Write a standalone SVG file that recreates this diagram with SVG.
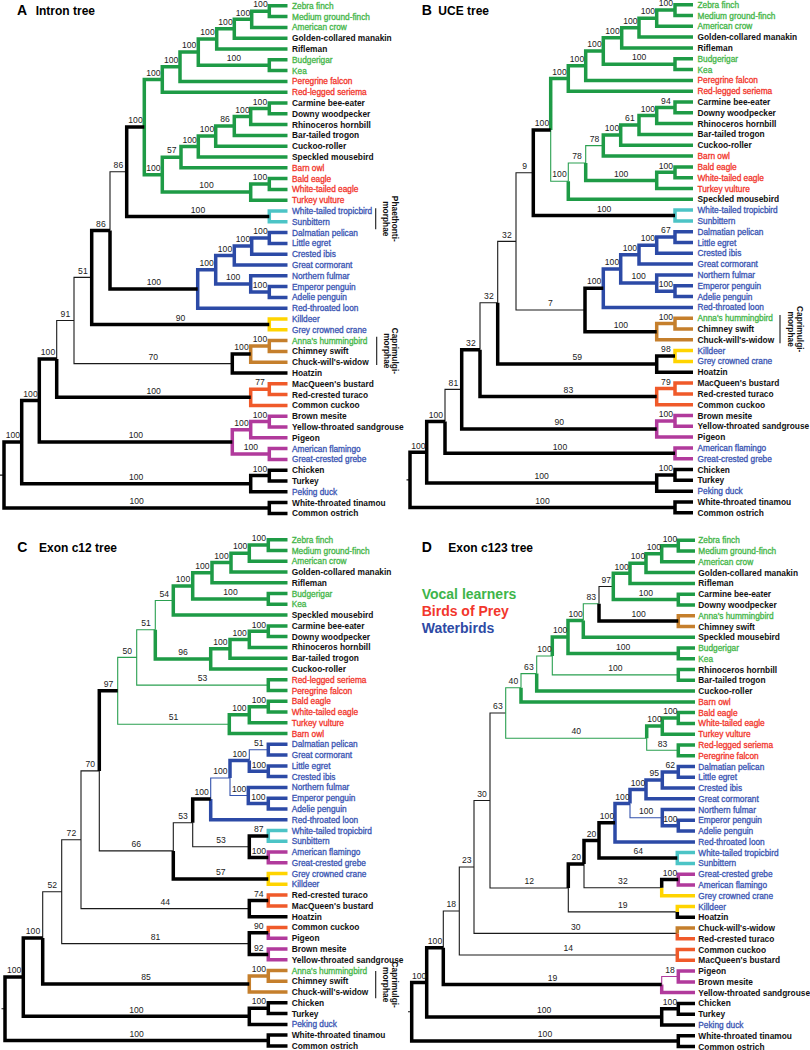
<svg xmlns="http://www.w3.org/2000/svg" width="810" height="1050" viewBox="0 0 810 1050">
<style>
path{fill:none;stroke-linejoin:miter;stroke-linecap:butt}
.k{stroke:#000;stroke-width:3.5}
.t{stroke:#1a1a1a;stroke-width:1.1}
.g{stroke:#1e9b46;stroke-width:3.5}
.gt{stroke:#2aa050;stroke-width:1.1}
.b{stroke:#2c4aa6;stroke-width:3.5}
.bt{stroke:#3352ad;stroke-width:1.1}
.c{stroke:#4cc4c6;stroke-width:3.5}
.y{stroke:#ffd400;stroke-width:3.5}
.o{stroke:#c57f2c;stroke-width:3.5}
.r{stroke:#f05a2a;stroke-width:3.5}
.m{stroke:#b13a9c;stroke-width:3.5}
.mt{stroke:#b13a9c;stroke-width:1.1}
.sp text{font-family:'Liberation Sans',Arial,sans-serif;font-size:8.6px;fill:#222;text-anchor:middle}
.lv text,.br text{font-family:'Liberation Sans',Arial,sans-serif;font-size:8.35px;font-weight:bold;fill:#111}
.br text{text-anchor:middle}
.lv .lg,.lv .lr,.lv .lb{font-weight:normal;font-size:8.3px;stroke-width:0.3}
.lv .lg{fill:#45b649;stroke:#45b649}.lv .lr{fill:#f2362c;stroke:#f2362c}.lv .lb{fill:#3a55b3;stroke:#3a55b3}
.tl{font-family:'Liberation Sans',Arial,sans-serif;font-size:14px;font-weight:bold;fill:#000}
.tn{font-family:'Liberation Sans',Arial,sans-serif;font-size:12px;font-weight:bold;fill:#000}
.lgd{font-family:'Liberation Sans',Arial,sans-serif;font-size:14px;font-weight:bold}
</style>

<!-- ================= TREE A ================= -->
<g id="treeA">
<text class="tl" x="17" y="15">A</text><text class="tn" x="35.7" y="15">Intron tree</text>
<g id="A-connectors">
<path class="t" d="M0 475.1H4M56.7 358.9V320.5H74M91.7 277.4H74V363.6H232.3M110 230.4V171.8H126.7"/>
<path class="g" d="M162.3 79.5H144.3V174.7H162.3M180 66.8H162.3V92.2H287.5M198.3 52.1H180V81.4H287.5M216.7 38.9H198.3V65.2H269.3M234.3 28.8H216.7V49H287.5M251.7 19.3H234.3V38.2H287.5M269.3 11.2H251.7V27.4H287.5M287.5 5.8H269.3V16.6H287.5M287.5 59.8H269.3V70.6H287.5M181 157.2H162.3V192.1H250.7M198.3 146.6H181V167.8H287.5M215.7 136.1H198.3V157H287.5M234.3 126H215.7V146.2H287.5M250.7 116.5H234.3V135.4H287.5M269.3 108.4H250.7V124.6H287.5M287.5 103H269.3V113.8H287.5M269.3 184H250.7V200.2H287.5M287.5 178.6H269.3V189.4H287.5"/>
<path class="c" d="M287.5 211H269.3V221.8H287.5"/>
<path class="b" d="M215.7 269.8H197.7V308.2H287.5M234.3 255.6H215.7V283.9H250.7M251.7 246.1H234.3V265H287.5M269.3 238H251.7V254.2H287.5M287.5 232.6H269.3V243.4H287.5M287.5 275.8H250.7V292H269.3M287.5 286.6H269.3V297.4H287.5"/>
<path class="y" d="M287.5 319H269.3V329.8H287.5"/>
<path class="o" d="M269.3 346H250.7V362.2H287.5M287.5 340.6H269.3V351.4H287.5"/>
<path class="r" d="M269.3 389.2H250.7V405.4H287.5M287.5 383.8H269.3V394.6H287.5"/>
<path class="m" d="M250.7 429.7H232.3V454H269.3M269.3 421.6H250.7V437.8H287.5M287.5 416.2H269.3V427H287.5M287.5 448.6H269.3V459.4H287.5"/>
<path class="k" d="M21.7 442.1H4V508H269.3M39.3 400.4H21.7V483.7H250.7M56.7 358.9H39.3V441.9H232.3M56.7 358.9V397.3H250.7M110 230.4H91.7V324.4H269.3M110 230.4V289H197.7M144.3 127.1H126.7V216.4H269.3M250.7 354.1H232.3V373H287.5M269.3 475.6H250.7V491.8H287.5M287.5 470.2H269.3V481H287.5M287.5 502.6H269.3V513.4H287.5"/>
<path class="t" d="M375.7 208.3V229.3M376.7 336.7V365"/>
</g>
<g class="sp" id="A-support">
<text x="260.5" y="7.4">100</text><text x="243" y="15.5">100</text><text x="225.5" y="25">100</text><text x="207.5" y="35.1">100</text><text x="233.8" y="61.4">100</text><text x="189.2" y="48.3">100</text><text x="171.2" y="63">100</text><text x="153.3" y="75.7">100</text><text x="135.5" y="123.3">100</text><text x="118.4" y="168">86</text><text x="260" y="104.6">100</text><text x="242.5" y="112.7">100</text><text x="225" y="122.2">86</text><text x="207" y="132.3">100</text><text x="189.7" y="142.8">100</text><text x="171.7" y="153.4">57</text><text x="260" y="180.2">100</text><text x="206.5" y="188.3">100</text><text x="153.3" y="170.9">100</text><text x="198" y="212.6">100</text><text x="100.9" y="226.6">86</text><text x="153.9" y="285.2">100</text><text x="260.5" y="234.2">100</text><text x="243" y="242.3">100</text><text x="225" y="251.8">100</text><text x="260" y="288.2">100</text><text x="233.2" y="280.1">100</text><text x="206.7" y="266">100</text><text x="180.5" y="320.6">90</text><text x="82.9" y="273.6">51</text><text x="65.4" y="316.7">91</text><text x="153.2" y="359.8">70</text><text x="260" y="342.2">100</text><text x="241.5" y="350.3">100</text><text x="48" y="355.1">100</text><text x="153.7" y="393.5">100</text><text x="260" y="385.4">77</text><text x="260" y="417.8">100</text><text x="241.5" y="425.9">100</text><text x="250.8" y="450.2">100</text><text x="135.8" y="438.1">100</text><text x="30.5" y="396.6">100</text><text x="260" y="471.8">100</text><text x="136.2" y="479.9">100</text><text x="12.9" y="438.3">100</text><text x="136.7" y="504.2">100</text>
</g>
<g class="br" id="A-clades">
<text transform="translate(391.5 218.8) rotate(90)">Phaethonti-</text><text transform="translate(383.2 218.8) rotate(90)">morphae</text>
<text transform="translate(392 350.8) rotate(90)">Caprimulgi-</text><text transform="translate(383.5 350.8) rotate(90)">morphae</text>
</g>
<g class="lv" id="A-leaves" transform="translate(292 0)">
<g id="a1"><text class="lg" y="8.8">Zebra finch</text></g>
<g id="a2"><text class="lg" y="19.6">Medium ground-finch</text></g>
<g id="a3"><text class="lg" y="30.4">American crow</text></g>
<g id="a4"><text y="41.2">Golden-collared manakin</text></g>
<g id="a5"><text y="52">Rifleman</text></g>
<g id="a6"><text class="lg" y="62.8">Budgerigar</text></g>
<g id="a7"><text class="lg" y="73.6">Kea</text></g>
<g id="a8"><text class="lr" y="84.4">Peregrine falcon</text></g>
<g id="a9"><text class="lr" y="95.2">Red-legged seriema</text></g>
<g id="a10"><text y="106">Carmine bee-eater</text></g>
<g id="a11"><text y="116.8">Downy woodpecker</text></g>
<g id="a12"><text y="127.6">Rhinoceros hornbill</text></g>
<g id="a13"><text y="138.4">Bar-tailed trogon</text></g>
<g id="a14"><text y="149.2">Cuckoo-roller</text></g>
<g id="a15"><text y="160">Speckled mousebird</text></g>
<g id="a16"><text class="lr" y="170.8">Barn owl</text></g>
<g id="a17"><text class="lr" y="181.6">Bald eagle</text></g>
<g id="a18"><text class="lr" y="192.4">White-tailed eagle</text></g>
<g id="a19"><text class="lr" y="203.2">Turkey vulture</text></g>
<g id="a20"><text class="lb" y="214">White-tailed tropicbird</text></g>
<g id="a21"><text class="lb" y="224.8">Sunbittern</text></g>
<g id="a22"><text class="lb" y="235.6">Dalmatian pelican</text></g>
<g id="a23"><text class="lb" y="246.4">Little egret</text></g>
<g id="a24"><text class="lb" y="257.2">Crested ibis</text></g>
<g id="a25"><text class="lb" y="268">Great cormorant</text></g>
<g id="a26"><text class="lb" y="278.8">Northern fulmar</text></g>
<g id="a27"><text class="lb" y="289.6">Emperor penguin</text></g>
<g id="a28"><text class="lb" y="300.4">Adelie penguin</text></g>
<g id="a29"><text class="lb" y="311.2">Red-throated loon</text></g>
<g id="a30"><text class="lb" y="322">Killdeer</text></g>
<g id="a31"><text class="lb" y="332.8">Grey crowned crane</text></g>
<g id="a32"><text class="lg" y="343.6">Anna's hummingbird</text></g>
<g id="a33"><text y="354.4">Chimney swift</text></g>
<g id="a34"><text y="365.2">Chuck-will's-widow</text></g>
<g id="a35"><text y="376">Hoatzin</text></g>
<g id="a36"><text y="386.8">MacQueen's bustard</text></g>
<g id="a37"><text y="397.6">Red-crested turaco</text></g>
<g id="a38"><text y="408.4">Common cuckoo</text></g>
<g id="a39"><text y="419.2">Brown mesite</text></g>
<g id="a40"><text y="430">Yellow-throated sandgrouse</text></g>
<g id="a41"><text y="440.8">Pigeon</text></g>
<g id="a42"><text class="lb" y="451.6">American flamingo</text></g>
<g id="a43"><text class="lb" y="462.4">Great-crested grebe</text></g>
<g id="a44"><text y="473.2">Chicken</text></g>
<g id="a45"><text y="484">Turkey</text></g>
<g id="a46"><text class="lb" y="494.8">Peking duck</text></g>
<g id="a47"><text y="505.6">White-throated tinamou</text></g>
<g id="a48"><text y="516.4">Common ostrich</text></g>
</g>
</g>

<!-- ================= TREE B ================= -->
<g id="treeB">
<text class="tl" x="421.7" y="15">B</text><text class="tn" x="438.3" y="15">UCE tree</text>
<g id="B-connectors">
<path class="t" d="M406.5 479.9H410M445 421.4V389.4H461.7M480 349.7V302.8H497.7M497.7 302.8V241.4H516M533.3 172.7H516V310H585"/>
<path class="gt" d="M550.7 129.9V181.2H568.3M568.3 181.2V163H585.7M585.7 163V145.6H603.3"/>
<path class="g" d="M550.7 129.9V78.5H568.3M585.7 65.7H568.3V91.2H693M603.3 51H585.7V80.4H693M621.7 37.8H603.3V64.2H675M639 27.7H621.7V47.9H693M656.7 18.2H639V37.1H693M675 10.1H656.7V26.3H693M693 4.7H675V15.5H693M693 58.8H675V69.6H693M568.3 181.2V199.3H693M585.7 163V180.4H656.7M620.7 135.1H603.3V156H693M639 125H620.7V145.2H693M656.7 115.5H639V134.4H693M675 107.4H656.7V123.6H693M693 102H675V112.8H693M675 172.3H656.7V188.5H693M693 166.9H675V177.7H693"/>
<path class="c" d="M693 210.1H675V220.9H693"/>
<path class="b" d="M620.7 268.9H603.3V307.4H693M639 254.7H620.7V283.1H656.7M656.7 245.2H639V264.1H693M675 237.1H656.7V253.3H693M693 231.7H675V242.5H693M693 275H656.7V291.2H675M693 285.8H675V296.6H693"/>
<path class="o" d="M675 323.6H656.7V339.8H693M693 318.2H675V329H693"/>
<path class="y" d="M693 350.6H675V361.4H693"/>
<path class="r" d="M675 388.5H656.7V404.7H693M693 383.1H675V393.9H693"/>
<path class="m" d="M675 420.9H656.7V437.1H693M693 415.5H675V426.3H693M693 447.9H675V458.7H693"/>
<path class="k" d="M426.7 452.3H410V507.4H675M445 421.4H426.7V483.1H656.7M445 421.4V453.3H675M480 349.7H461.7V429H656.7M480 349.7V396.6H656.7M497.7 302.8V364.1H656.7M550.7 129.9H533.3V215.5H675M603.3 288.2H585V331.7H656.7M675 356H656.7V372.2H693M675 474.9H656.7V491.2H693M693 469.5H675V480.3H693M693 502H675V512.8H693"/>
<path class="t" d="M780 315V343.3"/>
</g>
<g class="sp" id="B-support">
<text x="665.9" y="6.3">100</text><text x="647.9" y="14.4">100</text><text x="630.4" y="23.9">100</text><text x="612.5" y="34">100</text><text x="639.2" y="60.4">100</text><text x="594.5" y="47.2">100</text><text x="577" y="61.9">100</text><text x="559.5" y="74.7">100</text><text x="542" y="126.1">100</text><text x="559.5" y="177.4">100</text><text x="577" y="159.2">78</text><text x="594.5" y="141.8">78</text><text x="621.2" y="176.6">100</text><text x="612" y="131.3">100</text><text x="629.9" y="121.2">61</text><text x="647.9" y="111.7">100</text><text x="665.9" y="103.6">94</text><text x="665.9" y="168.5">100</text><text x="604.2" y="211.7">100</text><text x="524.7" y="168.9">9</text><text x="506.9" y="237.6">32</text><text x="550.5" y="306.2">7</text><text x="594.2" y="284.4">100</text><text x="620.9" y="327.9">100</text><text x="612" y="265.1">100</text><text x="629.9" y="250.9">100</text><text x="638.7" y="279.3">100</text><text x="647.9" y="241.4">100</text><text x="665.9" y="233.3">67</text><text x="665.9" y="287.4">100</text><text x="665.9" y="319.8">100</text><text x="665.9" y="352.2">98</text><text x="577.2" y="360.3">59</text><text x="488.9" y="299">32</text><text x="470.9" y="345.9">32</text><text x="568.4" y="392.8">83</text><text x="665.9" y="384.7">79</text><text x="559.2" y="425.2">90</text><text x="665.9" y="417.1">100</text><text x="453.4" y="385.6">81</text><text x="560" y="449.5">100</text><text x="435.9" y="417.6">100</text><text x="665.9" y="471.1">100</text><text x="541.7" y="479.3">100</text><text x="418.4" y="448.5">100</text><text x="542.5" y="503.6">100</text>
</g>
<g class="br" id="B-clades">
<text transform="translate(796.5 329.2) rotate(90)">Caprimulgi-</text><text transform="translate(788 329.2) rotate(90)">morphae</text>
</g>
<g class="lv" id="B-leaves" transform="translate(697.5 0)">
<g id="b1"><text class="lg" y="7.7">Zebra finch</text></g>
<g id="b2"><text class="lg" y="18.5">Medium ground-finch</text></g>
<g id="b3"><text class="lg" y="29.3">American crow</text></g>
<g id="b4"><text y="40.1">Golden-collared manakin</text></g>
<g id="b5"><text y="50.9">Rifleman</text></g>
<g id="b6"><text class="lg" y="61.8">Budgerigar</text></g>
<g id="b7"><text class="lg" y="72.6">Kea</text></g>
<g id="b8"><text class="lr" y="83.4">Peregrine falcon</text></g>
<g id="b9"><text class="lr" y="94.2">Red-legged seriema</text></g>
<g id="b10"><text y="105">Carmine bee-eater</text></g>
<g id="b11"><text y="115.8">Downy woodpecker</text></g>
<g id="b12"><text y="126.6">Rhinoceros hornbill</text></g>
<g id="b13"><text y="137.4">Bar-tailed trogon</text></g>
<g id="b14"><text y="148.2">Cuckoo-roller</text></g>
<g id="b15"><text class="lr" y="159">Barn owl</text></g>
<g id="b16"><text class="lr" y="169.9">Bald eagle</text></g>
<g id="b17"><text class="lr" y="180.7">White-tailed eagle</text></g>
<g id="b18"><text class="lr" y="191.5">Turkey vulture</text></g>
<g id="b19"><text y="202.3">Speckled mousebird</text></g>
<g id="b20"><text class="lb" y="213.1">White-tailed tropicbird</text></g>
<g id="b21"><text class="lb" y="223.9">Sunbittern</text></g>
<g id="b22"><text class="lb" y="234.7">Dalmatian pelican</text></g>
<g id="b23"><text class="lb" y="245.5">Little egret</text></g>
<g id="b24"><text class="lb" y="256.3">Crested ibis</text></g>
<g id="b25"><text class="lb" y="267.1">Great cormorant</text></g>
<g id="b26"><text class="lb" y="278">Northern fulmar</text></g>
<g id="b27"><text class="lb" y="288.8">Emperor penguin</text></g>
<g id="b28"><text class="lb" y="299.6">Adelie penguin</text></g>
<g id="b29"><text class="lb" y="310.4">Red-throated loon</text></g>
<g id="b30"><text class="lg" y="321.2">Anna's hummingbird</text></g>
<g id="b31"><text y="332">Chimney swift</text></g>
<g id="b32"><text y="342.8">Chuck-will's-widow</text></g>
<g id="b33"><text class="lb" y="353.6">Killdeer</text></g>
<g id="b34"><text class="lb" y="364.4">Grey crowned crane</text></g>
<g id="b35"><text y="375.2">Hoatzin</text></g>
<g id="b36"><text y="386.1">MacQueen's bustard</text></g>
<g id="b37"><text y="396.9">Red-crested turaco</text></g>
<g id="b38"><text y="407.7">Common cuckoo</text></g>
<g id="b39"><text y="418.5">Brown mesite</text></g>
<g id="b40"><text y="429.3">Yellow-throated sandgrouse</text></g>
<g id="b41"><text y="440.1">Pigeon</text></g>
<g id="b42"><text class="lb" y="450.9">American flamingo</text></g>
<g id="b43"><text class="lb" y="461.7">Great-crested grebe</text></g>
<g id="b44"><text y="472.5">Chicken</text></g>
<g id="b45"><text y="483.3">Turkey</text></g>
<g id="b46"><text class="lb" y="494.2">Peking duck</text></g>
<g id="b47"><text y="505">White-throated tinamou</text></g>
<g id="b48"><text y="515.8">Common ostrich</text></g>
</g>
</g>

<!-- ================= TREE C ================= -->
<g id="treeC">
<text class="tl" x="17.3" y="551.7">C</text><text class="tn" x="39" y="551.7">Exon c12 tree</text>
<g id="C-connectors">
<path class="t" d="M1.5 1008.8H5M42.7 937.9V891.7H61.7M81 839.8H61.7V943.6H249.3M99.3 770.9H81V908.6H249.3M99.3 770.9V850.9H173.3M173.3 850.9V822.8H192.7M192.7 822.8V846.7H249.3"/>
<path class="gt" d="M136.7 657.4H117.7V724.2H229.3M155.3 629.7H136.7V685.1H268.3M155.3 629.7V600.5H173.3"/>
<path class="g" d="M155.3 629.7V658.9H210.7M192.7 585.9H173.3V615.1H287.5M212 572.7H192.7V599H268.3M231 562.6H212V582.8H287.5M249.3 553.2H231V572H287.5M268.3 545.1H249.3V561.2H287.5M287.5 539.7H268.3V550.5H287.5M287.5 593.6H268.3V604.3H287.5M230 648.8H210.7V668.9H287.5M249.3 639.4H230V658.2H287.5M268.3 631.3H249.3V647.4H287.5M287.5 625.9H268.3V636.6H287.5M287.5 679.7H268.3V690.5H287.5M249.3 714.8H229.3V733.6H287.5M268.3 706.7H249.3V722.8H287.5M287.5 701.3H268.3V712H287.5"/>
<path class="bt" d="M210.7 798.9V778H230M230 778V795.5H248.3M249.3 760.5V749.7H268.3"/>
<path class="b" d="M210.7 798.9V819.7H287.5M230 778V760.5H249.3M249.3 760.5V771.3H268.3M287.5 744.3H268.3V755.1H287.5M287.5 765.9H268.3V776.6H287.5M287.5 787.4H248.3V803.6H268.3M287.5 798.2H268.3V809H287.5"/>
<path class="c" d="M287.5 830.5H268.3V841.3H287.5"/>
<path class="m" d="M287.5 852H268.3V862.8H287.5M268.3 932.8V938.2H287.5M287.5 949H268.3V959.7H287.5"/>
<path class="y" d="M287.5 873.6H268.3V884.3H287.5"/>
<path class="r" d="M287.5 895.1H268.3V905.9H287.5M268.3 932.8V927.4H287.5"/>
<path class="o" d="M268.3 975.9H249.3V992H287.5M287.5 970.5H268.3V981.3H287.5"/>
<path class="k" d="M23.3 977.1H5V1040.5H268.3M42.7 937.9H23.3V1016.3H249.3M42.7 937.9V984H249.3M99.3 770.9V690.8H117.7M173.3 850.9V879H268.3M192.7 822.8V798.9H210.7M268.3 835.9H249.3V857.4H268.3M268.3 900.5H249.3V916.7H287.5M268.3 932.8H249.3V954.4H268.3M268.3 1008.2H249.3V1024.4H287.5M287.5 1002.8H268.3V1013.6H287.5M287.5 1035.1H268.3V1045.9H287.5"/>
<path class="t" d="M375.7 971V998.3"/>
</g>
<g class="sp" id="C-support">
<text x="258.8" y="541.3">100</text><text x="240.2" y="549.4">100</text><text x="221.5" y="558.8">100</text><text x="202.4" y="568.9">100</text><text x="230.5" y="595.2">100</text><text x="183" y="582.1">100</text><text x="164.3" y="596.7">54</text><text x="146" y="625.9">51</text><text x="183" y="655.1">96</text><text x="220.4" y="645">100</text><text x="239.7" y="635.6">100</text><text x="258.8" y="627.5">100</text><text x="202.5" y="681.3">53</text><text x="127.2" y="653.6">50</text><text x="239.3" y="711">100</text><text x="258.8" y="702.9">100</text><text x="173.5" y="720.4">51</text><text x="108.5" y="687">97</text><text x="90.2" y="767.1">70</text><text x="136.3" y="847.1">66</text><text x="183" y="819">53</text><text x="220.8" y="875.2">57</text><text x="201.7" y="795.1">100</text><text x="221" y="842.9">53</text><text x="220.4" y="774.2">100</text><text x="239.7" y="756.7">100</text><text x="239.2" y="791.7">100</text><text x="258.8" y="745.9">51</text><text x="258.8" y="767.5">100</text><text x="258.3" y="799.8">100</text><text x="258.8" y="832.1">87</text><text x="258.8" y="853.6">100</text><text x="71.4" y="836">72</text><text x="165.2" y="904.8">44</text><text x="258.8" y="896.7">74</text><text x="155.5" y="939.8">81</text><text x="258.8" y="929">90</text><text x="258.8" y="950.6">92</text><text x="52.2" y="887.9">52</text><text x="146" y="980.2">85</text><text x="258.8" y="972.1">100</text><text x="33" y="934.1">100</text><text x="136.3" y="1012.5">100</text><text x="258.8" y="1004.4">100</text><text x="14.2" y="973.3">100</text><text x="136.7" y="1036.7">100</text>
</g>
<g class="br" id="C-clades">
<text transform="translate(391.5 984.7) rotate(90)">Caprimulgi-</text><text transform="translate(383 984.7) rotate(90)">morphae</text>
</g>
<g class="lv" id="C-leaves" transform="translate(291.7 0)">
<g id="c1"><text class="lg" y="542.7">Zebra finch</text></g>
<g id="c2"><text class="lg" y="553.5">Medium ground-finch</text></g>
<g id="c3"><text class="lg" y="564.2">American crow</text></g>
<g id="c4"><text y="575">Golden-collared manakin</text></g>
<g id="c5"><text y="585.8">Rifleman</text></g>
<g id="c6"><text class="lg" y="596.6">Budgerigar</text></g>
<g id="c7"><text class="lg" y="607.3">Kea</text></g>
<g id="c8"><text y="618.1">Speckled mousebird</text></g>
<g id="c9"><text y="628.9">Carmine bee-eater</text></g>
<g id="c10"><text y="639.6">Downy woodpecker</text></g>
<g id="c11"><text y="650.4">Rhinoceros hornbill</text></g>
<g id="c12"><text y="661.2">Bar-tailed trogon</text></g>
<g id="c13"><text y="671.9">Cuckoo-roller</text></g>
<g id="c14"><text class="lr" y="682.7">Red-legged seriema</text></g>
<g id="c15"><text class="lr" y="693.5">Peregrine falcon</text></g>
<g id="c16"><text class="lr" y="704.3">Bald eagle</text></g>
<g id="c17"><text class="lr" y="715">White-tailed eagle</text></g>
<g id="c18"><text class="lr" y="725.8">Turkey vulture</text></g>
<g id="c19"><text class="lr" y="736.6">Barn owl</text></g>
<g id="c20"><text class="lb" y="747.3">Dalmatian pelican</text></g>
<g id="c21"><text class="lb" y="758.1">Great cormorant</text></g>
<g id="c22"><text class="lb" y="768.9">Little egret</text></g>
<g id="c23"><text class="lb" y="779.6">Crested ibis</text></g>
<g id="c24"><text class="lb" y="790.4">Northern fulmar</text></g>
<g id="c25"><text class="lb" y="801.2">Emperor penguin</text></g>
<g id="c26"><text class="lb" y="812">Adelie penguin</text></g>
<g id="c27"><text class="lb" y="822.7">Red-throated loon</text></g>
<g id="c28"><text class="lb" y="833.5">White-tailed tropicbird</text></g>
<g id="c29"><text class="lb" y="844.3">Sunbittern</text></g>
<g id="c30"><text class="lb" y="855">American flamingo</text></g>
<g id="c31"><text class="lb" y="865.8">Great-crested grebe</text></g>
<g id="c32"><text class="lb" y="876.6">Grey crowned crane</text></g>
<g id="c33"><text class="lb" y="887.3">Killdeer</text></g>
<g id="c34"><text y="898.1">Red-crested turaco</text></g>
<g id="c35"><text y="908.9">MacQueen's bustard</text></g>
<g id="c36"><text y="919.7">Hoatzin</text></g>
<g id="c37"><text y="930.4">Common cuckoo</text></g>
<g id="c38"><text y="941.2">Pigeon</text></g>
<g id="c39"><text y="952">Brown mesite</text></g>
<g id="c40"><text y="962.7">Yellow-throated sandgrouse</text></g>
<g id="c41"><text class="lg" y="973.5">Anna's hummingbird</text></g>
<g id="c42"><text y="984.3">Chimney swift</text></g>
<g id="c43"><text y="995">Chuck-will's-widow</text></g>
<g id="c44"><text y="1005.8">Chicken</text></g>
<g id="c45"><text y="1016.6">Turkey</text></g>
<g id="c46"><text class="lb" y="1027.4">Peking duck</text></g>
<g id="c47"><text y="1038.1">White-throated tinamou</text></g>
<g id="c48"><text y="1048.9">Common ostrich</text></g>
</g>
</g>

<!-- ================= TREE D ================= -->
<g id="treeD">
<text class="tl" x="421.7" y="551.7">D</text><text class="tn" x="448.3" y="551.7">Exon c123 tree</text>
<g id="legend">
<text class="lgd" x="421.7" y="598.5" fill="#3db54a">Vocal learners</text>
<text class="lgd" x="421.7" y="615.5" fill="#f2362c">Birds of Prey</text>
<text class="lgd" x="421.7" y="632.5" fill="#2e4aa5">Waterbirds</text>
</g>
<g id="D-connectors">
<path class="t" d="M408 1011.8H411.7M443.3 947.8V911H459.3M474 867H459.3V955H677.3M490 800.5H474V933.4H677.3M505.7 713H490V888H568.3M599 603.8V586.5H613.3M568.3 888V911.9H677.3M584 864.1V887.7H661.7"/>
<path class="gt" d="M521 687.8H505.7V738.2H646.7M521 687.8V673.6H536.7M536.7 673.6V656H552.3M552.3 656V674.9H678.3M583.3 620.5V603.8H599M646.7 738.2V750.3H678.3"/>
<path class="g" d="M521 687.8V701.9H695M536.7 673.6V691.1H695M552.3 656V637H568M583.3 620.5H568V653.4H678.3M583.3 620.5V637.2H695M630 573.3H613.3V599.6H678.3M646 563.2H630V583.4H695M661.7 553.8H646V572.6H695M678.3 545.7H661.7V561.8H695M695 540.3H678.3V551.1H695M695 594.2H678.3V604.9H695M695 648H678.3V658.8H695M695 669.5H678.3V680.3H695M646.7 738.2V726.1H662.3M678.3 718H662.3V734.2H695M695 712.6H678.3V723.4H695M695 744.9H678.3V755.7H695"/>
<path class="o" d="M695 615.7H678.3V626.5H695M677.3 933.4V928H695"/>
<path class="bt" d="M630 803.6V817.7H662.3"/>
<path class="b" d="M630 803.6H615V841.9H695M630 803.6V789.4H646M662.3 780H646V798.8H695M678.3 771.9H662.3V788H695M695 766.5H678.3V777.2H695M695 809.6H662.3V825.7H678.3M695 820.3H678.3V831.1H695"/>
<path class="c" d="M695 852.6H677.3V863.4H695"/>
<path class="m" d="M695 874.2H678.3V884.9H695M661.7 984.6V992.6H695M695 971.1H678.3V981.9H695"/>
<path class="mt" d="M661.7 984.6V976.5H678.3"/>
<path class="y" d="M661.7 887.7V895.7H695M677.3 911.9V906.5H695"/>
<path class="r" d="M677.3 933.4V938.8H695M695 949.6H677.3V960.3H695"/>
<path class="k" d="M426.7 982.4H411.7V1041.1H678.3M443.3 947.8H426.7V1016.9H661.7M443.3 947.8V984.6H661.7M599 603.8V621.1H678.3M568.3 888V864.1H584M584 864.1V840.4H599M615 822.8H599V858H677.3M661.7 887.7V879.6H678.3M677.3 911.9V917.3H695M678.3 1008.8H661.7V1025H695M695 1003.4H678.3V1014.2H695M695 1035.7H678.3V1046.5H695"/>
</g>
<g class="sp" id="D-support">
<text x="670" y="541.9">100</text><text x="653.9" y="550">100</text><text x="638" y="559.4">100</text><text x="621.7" y="569.5">100</text><text x="645.8" y="595.8">100</text><text x="606.2" y="582.7">97</text><text x="638.7" y="617.3">100</text><text x="591.2" y="600">83</text><text x="575.7" y="616.7">100</text><text x="623.2" y="649.6">100</text><text x="560.2" y="633.2">100</text><text x="544.5" y="652.2">100</text><text x="615.3" y="671.1">100</text><text x="528.9" y="669.8">63</text><text x="513.4" y="684">40</text><text x="576.2" y="734.4">40</text><text x="497.9" y="709.2">63</text><text x="654.5" y="722.3">100</text><text x="662.5" y="746.5">83</text><text x="670.3" y="714.2">100</text><text x="482" y="796.7">30</text><text x="529.2" y="884.2">12</text><text x="576.2" y="860.3">20</text><text x="622.8" y="908.1">19</text><text x="591.5" y="836.6">20</text><text x="622.9" y="883.9">32</text><text x="670" y="875.8">100</text><text x="607" y="819">100</text><text x="638.2" y="854.2">64</text><text x="622.5" y="799.8">100</text><text x="638" y="785.6">100</text><text x="646.2" y="813.9">100</text><text x="654.2" y="776.2">95</text><text x="670.3" y="821.9">100</text><text x="670.3" y="768.1">62</text><text x="466.7" y="863.2">23</text><text x="575.7" y="929.6">30</text><text x="568.3" y="951.2">14</text><text x="451.3" y="907.2">18</text><text x="552.5" y="980.8">19</text><text x="670" y="972.7">18</text><text x="435" y="944">100</text><text x="544.2" y="1013.1">100</text><text x="670" y="1005">100</text><text x="419.2" y="978.6">100</text><text x="545" y="1037.3">100</text>
</g>
<g class="lv" id="D-leaves" transform="translate(698.3 0)">
<g id="d1"><text class="lg" y="543.3">Zebra finch</text></g>
<g id="d2"><text class="lg" y="554.1">Medium ground-finch</text></g>
<g id="d3"><text class="lg" y="564.8">American crow</text></g>
<g id="d4"><text y="575.6">Golden-collared manakin</text></g>
<g id="d5"><text y="586.4">Rifleman</text></g>
<g id="d6"><text y="597.2">Carmine bee-eater</text></g>
<g id="d7"><text y="607.9">Downy woodpecker</text></g>
<g id="d8"><text class="lg" y="618.7">Anna's hummingbird</text></g>
<g id="d9"><text y="629.5">Chimney swift</text></g>
<g id="d10"><text y="640.2">Speckled mousebird</text></g>
<g id="d11"><text class="lg" y="651">Budgerigar</text></g>
<g id="d12"><text class="lg" y="661.8">Kea</text></g>
<g id="d13"><text y="672.5">Rhinoceros hornbill</text></g>
<g id="d14"><text y="683.3">Bar-tailed trogon</text></g>
<g id="d15"><text y="694.1">Cuckoo-roller</text></g>
<g id="d16"><text class="lr" y="704.9">Barn owl</text></g>
<g id="d17"><text class="lr" y="715.6">Bald eagle</text></g>
<g id="d18"><text class="lr" y="726.4">White-tailed eagle</text></g>
<g id="d19"><text class="lr" y="737.2">Turkey vulture</text></g>
<g id="d20"><text class="lr" y="747.9">Red-legged seriema</text></g>
<g id="d21"><text class="lr" y="758.7">Peregrine falcon</text></g>
<g id="d22"><text class="lb" y="769.5">Dalmatian pelican</text></g>
<g id="d23"><text class="lb" y="780.2">Little egret</text></g>
<g id="d24"><text class="lb" y="791">Crested ibis</text></g>
<g id="d25"><text class="lb" y="801.8">Great cormorant</text></g>
<g id="d26"><text class="lb" y="812.6">Northern fulmar</text></g>
<g id="d27"><text class="lb" y="823.3">Emperor penguin</text></g>
<g id="d28"><text class="lb" y="834.1">Adelie penguin</text></g>
<g id="d29"><text class="lb" y="844.9">Red-throated loon</text></g>
<g id="d30"><text class="lb" y="855.6">White-tailed tropicbird</text></g>
<g id="d31"><text class="lb" y="866.4">Sunbittern</text></g>
<g id="d32"><text class="lb" y="877.2">Great-crested grebe</text></g>
<g id="d33"><text class="lb" y="887.9">American flamingo</text></g>
<g id="d34"><text class="lb" y="898.7">Grey crowned crane</text></g>
<g id="d35"><text class="lb" y="909.5">Killdeer</text></g>
<g id="d36"><text y="920.3">Hoatzin</text></g>
<g id="d37"><text y="931">Chuck-will's-widow</text></g>
<g id="d38"><text y="941.8">Red-crested turaco</text></g>
<g id="d39"><text y="952.6">Common cuckoo</text></g>
<g id="d40"><text y="963.3">MacQueen's bustard</text></g>
<g id="d41"><text y="974.1">Pigeon</text></g>
<g id="d42"><text y="984.9">Brown mesite</text></g>
<g id="d43"><text y="995.6">Yellow-throated sandgrouse</text></g>
<g id="d44"><text y="1006.4">Chicken</text></g>
<g id="d45"><text y="1017.2">Turkey</text></g>
<g id="d46"><text class="lb" y="1028">Peking duck</text></g>
<g id="d47"><text y="1038.7">White-throated tinamou</text></g>
<g id="d48"><text y="1049.5">Common ostrich</text></g>
</g>
</g>
</svg>
